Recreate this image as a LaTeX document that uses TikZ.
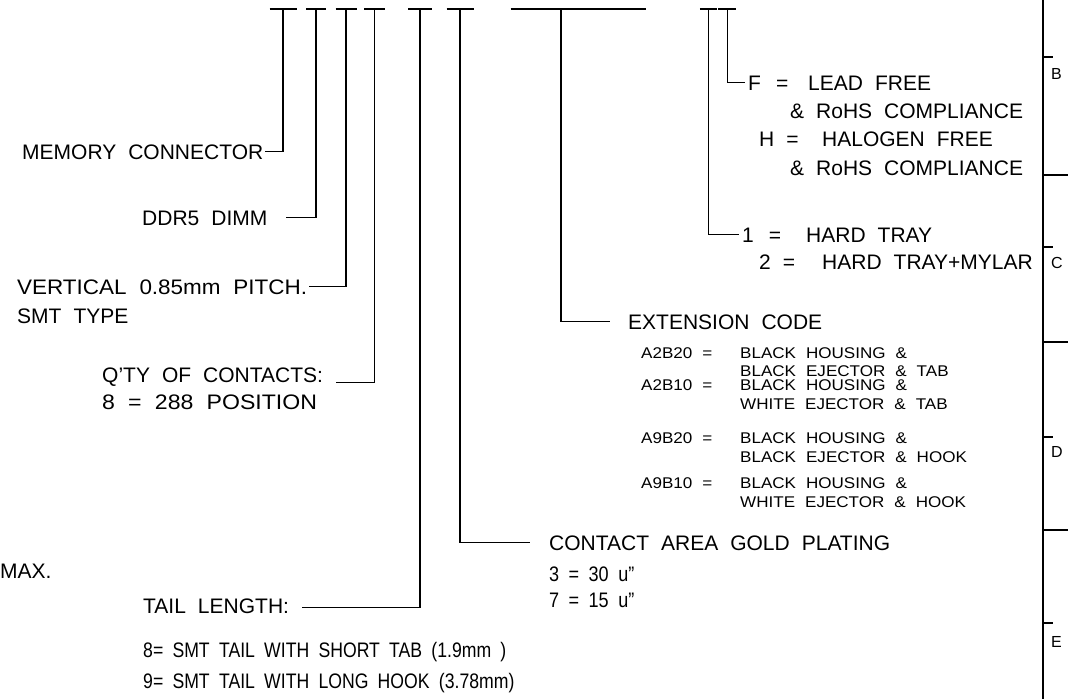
\documentclass[tikz,border=0pt]{standalone}
\usepackage{fontspec}
\setmainfont{Liberation Sans}
\newfontfamily\smallfam[FakeStretch=1.1]{Liberation Sans}
\newcommand\mainf{\fontsize{21}{25}\selectfont\spaceskip=12pt plus 1pt\relax}
\newcommand\smallf{\smallfam\fontsize{15.5}{18}\selectfont\spaceskip=10pt plus 1pt\relax}
\newcommand\tickf{\fontsize{16}{18}\selectfont}
\begin{document}
\begin{tikzpicture}[x=1pt,y=-1pt,
  lbl/.style={anchor=base west,inner sep=0pt,font=\mainf,text height=15pt,text depth=0pt},
  slbl/.style={anchor=base west,inner sep=0pt,font=\smallf,text height=11pt,text depth=0pt},
  conn/.style={line width=1.6pt},
  tbar/.style={line width=1.6pt},
  frame/.style={line width=2.6pt},
  tick/.style={line width=1.5pt},
  zone/.style={anchor=base west,inner sep=0pt,font=\tickf}]
\useasboundingbox (0,0) rectangle (1068,699);

% top T markers
\foreach \n/\x/\hw in {t1/283/13.5,t2/316/10,t3/346/10.5,t4/374.5/10.5,t5/420/12,t6/460/13.5,t8/708.3/8.5,t9/727.3/9}{
  \draw[tbar] (\x-\hw,9) -- (\x+\hw,9);
  \coordinate (\n) at (\x,9);
}
\draw[tbar] (510.7,9) -- (645.7,9);
\coordinate (t7) at (561,9);

% left labels
\node[lbl] (mem) at (22,159) {MEMORY CONNECTOR};
\node[lbl] (ddr) at (142,225) {DDR5 DIMM};
\node[lbl] (vert) at (17,294) {\scalebox{1.07}[1]{VERTICAL 0.85mm PITCH.}};
\node[lbl] (smt) at (17,323) {SMT TYPE};
\node[lbl] (qty) at (102,382) {Q’TY OF CONTACTS:};
\node[lbl] (pos) at (102,409) {\scalebox{1.1}[1]{8 = 288 POSITION}};
\node[lbl] (max) at (0,578) {MAX.};
\node[lbl] (tail) at (143,613) {TAIL LENGTH:};
\node[lbl] (tab) at (143,657) {\scalebox{0.84}[1]{\spaceskip=11pt\relax 8= SMT TAIL WITH SHORT TAB (1.9mm )}};
\node[lbl] (hook) at (143,688) {\scalebox{0.84}[1]{\spaceskip=11pt\relax 9= SMT TAIL WITH LONG HOOK (3.78mm)}};

% contact area
\node[lbl] (cag) at (549,550) {CONTACT AREA GOLD PLATING};
\node[lbl] (c3) at (549,581) {\scalebox{0.86}[1]{\spaceskip=11pt\relax 3 = 30 u”}};
\node[lbl] (c7) at (549,607) {\scalebox{0.86}[1]{\spaceskip=11pt\relax 7 = 15 u”}};

% extension code
\node[lbl] (ext) at (628,329) {EXTENSION CODE};
\node[slbl] (e1) at (641,358) {\makebox[99pt][l]{A2B20 =}BLACK HOUSING \&};
\node[slbl] (e1b) at (740,376) {BLACK EJECTOR \& TAB};
\node[slbl] (e2) at (641,390) {\makebox[99pt][l]{A2B10 =}BLACK HOUSING \&};
\node[slbl] (e2b) at (740,409) {WHITE EJECTOR \& TAB};
\node[slbl] (e3) at (641,443) {\makebox[99pt][l]{A9B20 =}BLACK HOUSING \&};
\node[slbl] (e3b) at (740,462) {BLACK EJECTOR \& HOOK};
\node[slbl] (e4) at (641,488) {\makebox[99pt][l]{A9B10 =}BLACK HOUSING \&};
\node[slbl] (e4b) at (740,507) {WHITE EJECTOR \& HOOK};

% right group
\node[lbl] (f) at (748,90) {\makebox[60pt][l]{F \hspace{3pt}=}LEAD FREE};
\node[lbl] (f2) at (790,118) {\& RoHS COMPLIANCE};
\node[lbl] (h) at (759,146) {\makebox[63pt][l]{H =}HALOGEN FREE};
\node[lbl] (h2) at (790,175) {\& RoHS COMPLIANCE};
\node[lbl] (one) at (742,242) {\makebox[64pt][l]{1 \hspace{3pt}=}HARD TRAY};
\node[lbl] (two) at (759,269) {\makebox[63pt][l]{2 =}HARD TRAY+MYLAR};

% connectors
\draw[conn] (t1) |- ([xshift=2pt]mem.east);
\draw[conn] (t2) |- ([xshift=18pt]ddr.east);
\draw[conn] (t3) |- ([xshift=2pt]vert.east);
\draw[conn] (t4) |- ([xshift=13pt,yshift=-8pt]qty.east);
\draw[conn] (t5) |- ([xshift=13pt,yshift=-2pt]tail.east);
\draw[conn] (t6) |- ([xshift=-19pt]cag.west);
\draw[conn] (t7) |- ([xshift=-18pt]ext.west);
\draw[conn] (t8) |- ([xshift=-3pt]one.west);
\draw[conn] (t9) |- ([xshift=-3pt]f.west);

% right frame with zone ticks
\draw[frame] (1043,0) -- (1043,699);
\foreach \y in {57,247,437,623} \draw[tick] (1043,\y) -- (1053,\y);
\foreach \y in {175,342,530} \draw[tick] (1043,\y) -- (1068,\y);
\node[zone] (zb) at (1051,79) {B};
\node[zone] (zc) at (1051,268) {C};
\node[zone] (zd) at (1051,457) {D};
\node[zone] (ze) at (1051,647) {E};
\end{tikzpicture}
\end{document}
